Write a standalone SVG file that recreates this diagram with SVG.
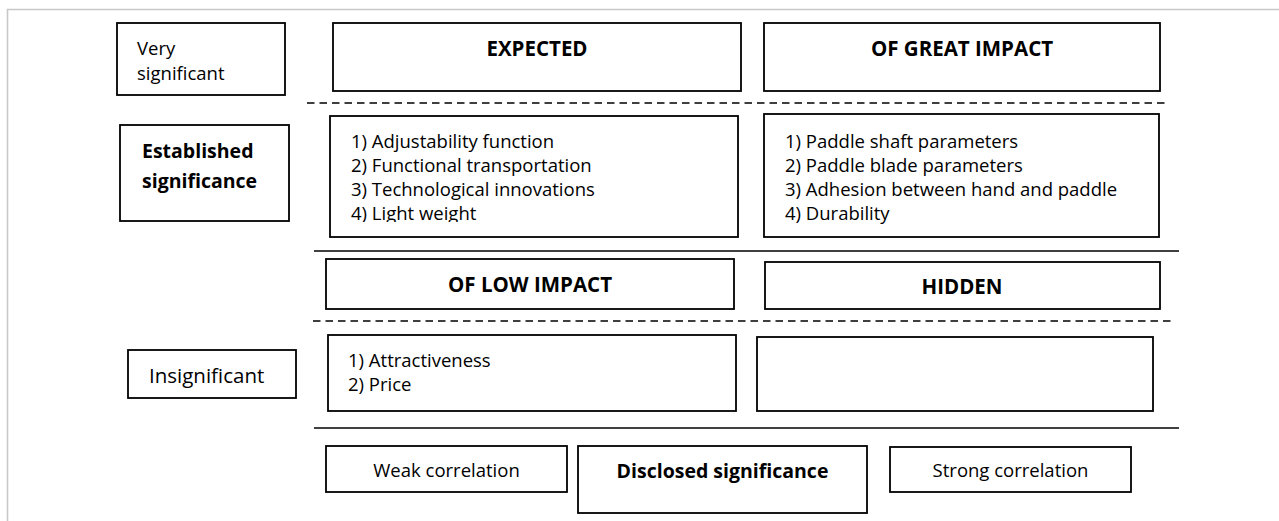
<svg xmlns="http://www.w3.org/2000/svg" width="1279" height="521" viewBox="0 0 1279 521">
<style>
.box{fill:#fff;stroke:#000;stroke-width:1.8}
.t{font-family:"Open Sans","Noto Sans","Liberation Sans",sans-serif;font-size:18.5px;fill:#000}
.b{font-family:"Open Sans","Noto Sans","Liberation Sans",sans-serif;font-size:19.5px;font-weight:bold;fill:#000}
.h{font-size:20.5px}
.c{text-anchor:middle}
.solid{stroke:#000;stroke-width:1.6;fill:none}
.dash{stroke:#000;stroke-width:1.6;fill:none;stroke-dasharray:7.5 5}
</style>
<defs>
<clipPath id="clipLight"><rect x="330" y="116" width="408" height="106"/></clipPath>
</defs>
<rect width="1279" height="521" fill="#fff"/>
<path d="M7.5 521 V9.5 H1279" fill="none" stroke="#c8c8c8" stroke-width="1.6"/>

<g id="connectors">
<line class="dash" x1="307" y1="103" x2="1168" y2="103"/>
<line class="solid" x1="314" y1="251" x2="1179" y2="251"/>
<line class="dash" x1="313" y1="321" x2="1173" y2="321"/>
<line class="solid" x1="314" y1="428" x2="1179" y2="428"/>
</g>

<g id="very-significant">
<rect class="box" x="117" y="23" width="168" height="72"/>
<text class="t" x="137" y="55">Very</text>
<text class="t" x="137" y="80">significant</text>
</g>
<g id="expected">
<rect class="box" x="333" y="23" width="408" height="68"/>
<text class="b h c" x="537" y="56">EXPECTED</text>
</g>
<g id="of-great-impact">
<rect class="box" x="764" y="23" width="396" height="68"/>
<text class="b h c" x="962" y="56">OF GREAT IMPACT</text>
</g>
<g id="established">
<rect class="box" x="120" y="125" width="169" height="96"/>
<text class="b" x="142" y="158">Established</text>
<text class="b" x="142" y="188">significance</text>
</g>
<g id="expected-list">
<rect class="box" x="330" y="116" width="408" height="121"/>
<text class="t" x="351" y="148">1) Adjustability function</text>
<text class="t" x="351" y="172">2) Functional transportation</text>
<text class="t" x="351" y="196">3) Technological innovations</text>
<text class="t" x="351" y="220" clip-path="url(#clipLight)">4) Light weight</text>
</g>
<g id="great-impact-list">
<rect class="box" x="764" y="114" width="395" height="123"/>
<text class="t" x="785" y="148">1) Paddle shaft parameters</text>
<text class="t" x="785" y="172">2) Paddle blade parameters</text>
<text class="t" x="785" y="196">3) Adhesion between hand and paddle</text>
<text class="t" x="785" y="220">4) Durability</text>
</g>
<g id="of-low-impact">
<rect class="box" x="326" y="259" width="408" height="50"/>
<text class="b h c" x="530" y="292">OF LOW IMPACT</text>
</g>
<g id="hidden">
<rect class="box" x="765" y="262" width="395" height="47"/>
<text class="b h c" x="962" y="294">HIDDEN</text>
</g>
<g id="insignificant">
<rect class="box" x="128" y="350" width="168" height="48"/>
<text class="t" x="149" y="383" style="font-size:20.5px">Insignificant</text>
</g>
<g id="low-impact-list">
<rect class="box" x="328" y="335" width="408" height="76"/>
<text class="t" x="348" y="367">1) Attractiveness</text>
<text class="t" x="348" y="391">2) Price</text>
</g>
<g id="hidden-list">
<rect class="box" x="757" y="337" width="396" height="74"/>
</g>
<g id="weak-correlation">
<rect class="box" x="326" y="446" width="241" height="46"/>
<text class="t c" x="446.5" y="477">Weak correlation</text>
</g>
<g id="disclosed-significance">
<rect class="box" x="578" y="446" width="289" height="67"/>
<text class="b c" x="722.5" y="478">Disclosed significance</text>
</g>
<g id="strong-correlation">
<rect class="box" x="890" y="447" width="241" height="45"/>
<text class="t c" x="1010.5" y="477">Strong correlation</text>
</g>
</svg>
